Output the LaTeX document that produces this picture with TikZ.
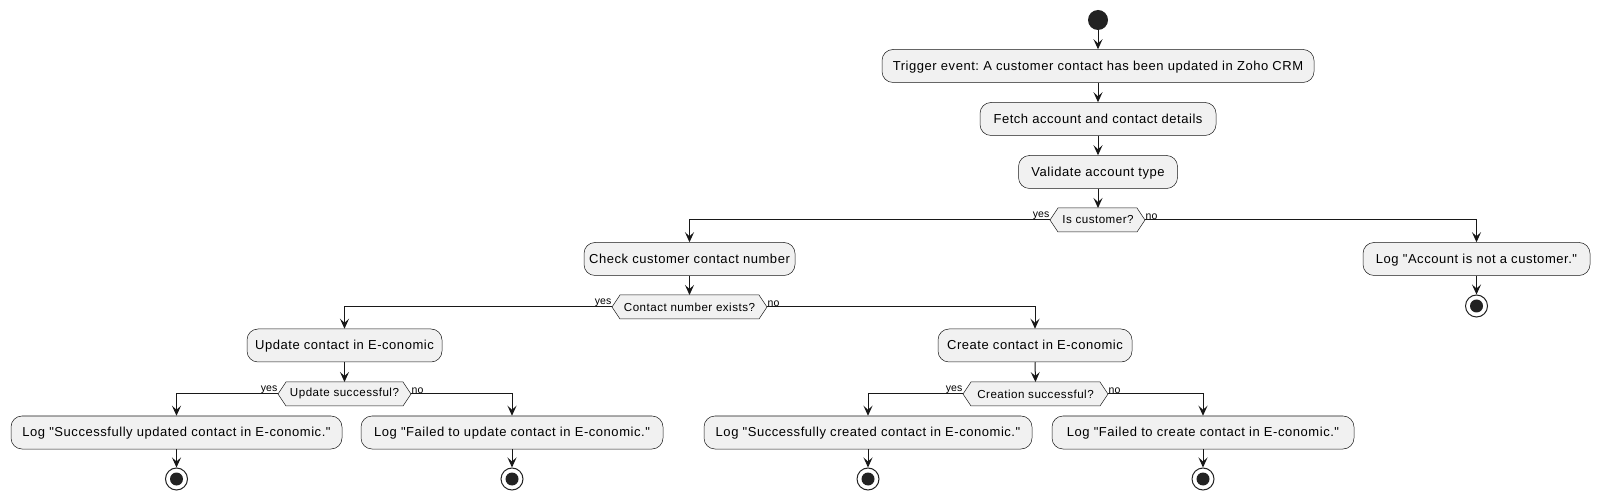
\documentclass[tikz,border=0pt]{standalone}
\usepackage{fontspec}
\setmainfont{Liberation Sans}
\newfontfamily\boxfont[LetterSpace=4.2]{Liberation Sans}
\usetikzlibrary{arrows.meta,backgrounds}
\definecolor{boxfill}{HTML}{F1F1F1}
\definecolor{ink}{HTML}{181818}
\definecolor{dot}{HTML}{222222}
\frenchspacing
\begin{document}
\begin{tikzpicture}[x=1pt,y=-1pt,
  act/.style={draw=ink, line width=0.5pt, fill=boxfill, rounded corners=11pt,
    minimum height=33pt, inner sep=0pt, text depth=1pt, font=\boxfont\fontsize{13}{15}\selectfont},
  dnode/.style={inner sep=0pt, minimum height=24pt, font=\boxfont\fontsize{11.6}{13}\selectfont},
  hexa/.style={draw=ink, line width=0.5pt, fill=boxfill},
  lbl/.style={inner sep=0.5pt, font=\fontsize{10.5}{12}\selectfont},
  arr/.style={draw=ink, line width=1pt, -{Stealth[length=10pt,width=9pt,inset=4pt]}},
  startdot/.style={circle, fill=dot, minimum size=20pt, inner sep=0pt},
  stopdot/.style={circle, draw=dot, line width=1pt, fill=white, minimum size=22pt, inner sep=0pt,
    path picture={\fill[dot] (path picture bounding box.center) circle[radius=6.5pt];}}
]
\useasboundingbox (0,0) rectangle (1601,502);

% start and main column
\node[startdot] (start) at (1098,20) {};
\node[act, minimum width=432pt] (trig) at (1098,66) {Trigger event: A customer contact has been updated in Zoho CRM};
\node[act, minimum width=236pt] (fetch) at (1098,119) {Fetch account and contact details};
\node[act, minimum width=159pt] (valid) at (1098,172) {Validate account type};

% decision 1
\node[dnode] (d1) at (1098,220) {Is customer?};
\coordinate (d1l) at (1050,220);
\coordinate (d1r) at (1145,220);

\node[act, minimum width=211pt] (check) at (689.5,259) {Check customer contact number};
\node[act, minimum width=227pt] (acct) at (1476.5,259) {Log "Account is not a customer."};
\node[stopdot] (end0) at (1476.5,306) {};

% decision 2
\node[dnode] (d2) at (689.5,307) {Contact number exists?};
\coordinate (d2l) at (612,307);
\coordinate (d2r) at (767,307);

\node[act, minimum width=195pt] (upd) at (344.5,345.5) {Update contact in E-conomic};
\node[act, minimum width=194pt] (cre) at (1035,345.5) {Create contact in E-conomic};

% decisions 3 and 4
\node[dnode] (d3) at (344.5,394) {Update successful?};
\coordinate (d3l) at (278,394);
\coordinate (d3r) at (411,394);
\node[dnode] (d4) at (1035.5,394) {Creation successful?};
\coordinate (d4l) at (963,394);
\coordinate (d4r) at (1108,394);

\node[act, minimum width=331pt] (l1) at (176.5,432.5) {Log "Successfully updated contact in E-conomic."};
\node[act, minimum width=302pt] (l2) at (512,432.5) {Log "Failed to update contact in E-conomic."};
\node[act, minimum width=328pt] (l3) at (868,432.5) {Log "Successfully created contact in E-conomic."};
\node[act, minimum width=302pt] (l4) at (1203,432.5) {Log "Failed to create contact in E-conomic."};

\node[stopdot] (end1) at (176.5,479) {};
\node[stopdot] (end2) at (512,479) {};
\node[stopdot] (end3) at (868,479) {};
\node[stopdot] (end4) at (1203,479) {};

% hexagons behind decision texts
\begin{scope}[on background layer]
\fill[white] (0,0) rectangle (1601,502);
\draw[hexa] (d1l) -- (1058,208) -- (1137,208) -- (d1r) -- (1137,232) -- (1058,232) -- cycle;
\draw[hexa] (d2l) -- (620,295) -- (759,295) -- (d2r) -- (759,319) -- (620,319) -- cycle;
\draw[hexa] (d3l) -- (286,382) -- (403,382) -- (d3r) -- (403,406) -- (286,406) -- cycle;
\draw[hexa] (d4l) -- (971,382) -- (1100,382) -- (d4r) -- (1100,406) -- (971,406) -- cycle;
\end{scope}

% labels
\node[lbl, anchor=south east] at (d1l) {yes};
\node[lbl, anchor=south west] at (d1r) {no};
\node[lbl, anchor=south east] at (d2l) {yes};
\node[lbl, anchor=south west] at (d2r) {no};
\node[lbl, anchor=south east] at (d3l) {yes};
\node[lbl, anchor=south west] at (d3r) {no};
\node[lbl, anchor=south east] at (d4l) {yes};
\node[lbl, anchor=south west] at (d4r) {no};

% connectors
\draw[arr] (start) -- (trig);
\draw[arr] (trig) -- (fetch);
\draw[arr] (fetch) -- (valid);
\draw[arr] (valid.south) -- (d1.north |- 0,208);
\draw[arr] (d1l) -| (check.north);
\draw[arr] (d1r) -| (acct.north);
\draw[arr] (acct) -- (end0);
\draw[arr] (check.south) -- (d2.north |- 0,295);
\draw[arr] (d2l) -| (upd.north);
\draw[arr] (d2r) -| (cre.north);
\draw[arr] (upd.south) -- (d3.north |- 0,382);
\draw[arr] (cre.south) -- (d4.north |- 0,382);
\draw[arr] (d3l) -| (l1.north);
\draw[arr] (d3r) -| (l2.north);
\draw[arr] (d4l) -| (l3.north);
\draw[arr] (d4r) -| (l4.north);
\draw[arr] (l1) -- (end1);
\draw[arr] (l2) -- (end2);
\draw[arr] (l3) -- (end3);
\draw[arr] (l4) -- (end4);
\end{tikzpicture}
\end{document}
